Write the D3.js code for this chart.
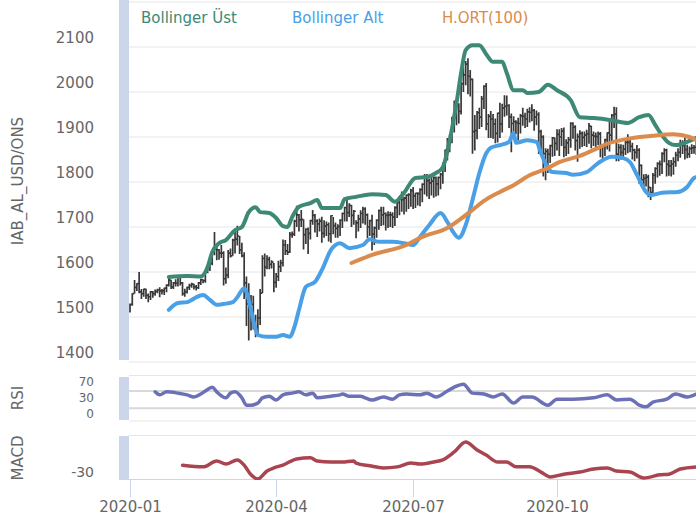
<!DOCTYPE html>
<html>
<head>
<meta charset="utf-8">
<script src="https://cdn.jsdelivr.net/npm/d3@7"></script>
<style>
  body { margin: 0; background: #fff; }
  svg { display: block; font-family: "DejaVu Sans", Verdana, sans-serif; }
</style>
</head>
<body>
<svg id="chart" width="696" height="525"></svg>
<script>
// daily bars, one row per session: [date, high, low, close]
const priceBars = [
  ["2020-01-02",1530,1510,1528],["2020-01-03",1553,1525,1552],["2020-01-06",1582,1552,1566],
  ["2020-01-07",1575,1558,1574],["2020-01-08",1600,1553,1556],["2020-01-09",1562,1540,1552],
  ["2020-01-10",1563,1545,1562],["2020-01-13",1563,1540,1548],["2020-01-14",1552,1533,1545],
  ["2020-01-15",1558,1538,1556],["2020-01-16",1558,1543,1552],["2020-01-17",1561,1547,1557],
  ["2020-01-20",1563,1553,1560],["2020-01-21",1566,1544,1558],["2020-01-22",1562,1550,1558],
  ["2020-01-23",1565,1549,1564],["2020-01-24",1573,1555,1571],["2020-01-27",1588,1568,1582],
  ["2020-01-28",1583,1562,1567],["2020-01-29",1578,1562,1576],["2020-01-30",1584,1568,1575],
  ["2020-01-31",1589,1568,1589],
  ["2020-02-03",1592,1570,1576],["2020-02-04",1578,1547,1552],["2020-02-05",1563,1545,1556],
  ["2020-02-06",1568,1552,1566],["2020-02-07",1574,1560,1570],["2020-02-10",1576,1565,1573],
  ["2020-02-11",1574,1561,1567],["2020-02-12",1571,1559,1565],["2020-02-13",1578,1562,1576],
  ["2020-02-14",1585,1571,1583],["2020-02-17",1584,1575,1581],["2020-02-18",1604,1576,1601],
  ["2020-02-19",1613,1597,1611],["2020-02-20",1624,1602,1619],["2020-02-21",1649,1615,1643],
  ["2020-02-24",1689,1637,1659],["2020-02-25",1660,1626,1649],["2020-02-26",1651,1627,1642],
  ["2020-02-27",1660,1631,1642],["2020-02-28",1646,1570,1585],
  ["2020-03-02",1610,1574,1593],["2020-03-03",1649,1586,1642],["2020-03-04",1652,1632,1636],
  ["2020-03-05",1674,1636,1671],["2020-03-06",1692,1641,1673],["2020-03-09",1703,1659,1680],
  ["2020-03-10",1680,1640,1649],["2020-03-11",1665,1633,1636],["2020-03-12",1644,1540,1576],
  ["2020-03-13",1590,1480,1529],["2020-03-16",1575,1448,1514],["2020-03-17",1549,1470,1528],
  ["2020-03-18",1547,1472,1477],["2020-03-19",1505,1455,1471],["2020-03-20",1517,1460,1498],
  ["2020-03-23",1562,1482,1553],["2020-03-24",1637,1553,1630],["2020-03-25",1641,1590,1611],
  ["2020-03-26",1637,1606,1628],["2020-03-27",1634,1606,1617],["2020-03-30",1626,1608,1622],
  ["2020-03-31",1620,1555,1577],
  ["2020-04-01",1598,1565,1590],["2020-04-02",1625,1580,1612],["2020-04-03",1627,1600,1620],
  ["2020-04-06",1672,1612,1660],["2020-04-07",1671,1638,1647],["2020-04-08",1662,1638,1644],
  ["2020-04-09",1689,1642,1683],["2020-04-10",1690,1676,1684],["2020-04-13",1716,1680,1713],
  ["2020-04-14",1747,1700,1727],["2020-04-15",1729,1690,1716],["2020-04-16",1738,1700,1717],
  ["2020-04-17",1717,1650,1683],["2020-04-20",1697,1662,1695],["2020-04-21",1699,1640,1686],
  ["2020-04-22",1716,1672,1714],["2020-04-24",1738,1705,1726],["2020-04-27",1729,1688,1713],
  ["2020-04-28",1717,1678,1707],["2020-04-29",1719,1690,1713],["2020-04-30",1723,1665,1686],
  ["2020-05-04",1715,1676,1702],["2020-05-05",1712,1680,1705],["2020-05-06",1710,1668,1685],
  ["2020-05-07",1726,1665,1725],["2020-05-08",1722,1684,1703],["2020-05-11",1710,1676,1697],
  ["2020-05-12",1706,1676,1701],["2020-05-13",1717,1680,1715],["2020-05-14",1732,1698,1730],
  ["2020-05-15",1745,1712,1743],["2020-05-18",1765,1712,1732],["2020-05-20",1753,1722,1748],
  ["2020-05-21",1749,1700,1726],["2020-05-22",1738,1705,1735],["2020-05-27",1715,1675,1709],
  ["2020-05-28",1727,1690,1718],["2020-05-29",1737,1698,1730],
  ["2020-06-01",1745,1708,1740],["2020-06-02",1744,1705,1727],["2020-06-03",1730,1675,1700],
  ["2020-06-04",1716,1680,1714],["2020-06-05",1727,1648,1684],["2020-06-08",1701,1660,1698],
  ["2020-06-09",1717,1676,1715],["2020-06-10",1739,1694,1737],["2020-06-11",1745,1702,1727],
  ["2020-06-12",1745,1704,1730],["2020-06-15",1732,1692,1726],["2020-06-16",1735,1698,1727],
  ["2020-06-17",1734,1700,1727],["2020-06-18",1733,1698,1722],["2020-06-19",1746,1702,1743],
  ["2020-06-22",1756,1720,1754],["2020-06-23",1769,1726,1768],["2020-06-24",1779,1734,1761],
  ["2020-06-25",1767,1728,1764],["2020-06-26",1772,1734,1771],["2020-06-29",1775,1740,1772],
  ["2020-06-30",1785,1745,1781],
  ["2020-07-01",1789,1740,1769],["2020-07-02",1776,1742,1775],["2020-07-03",1777,1748,1774],
  ["2020-07-06",1786,1746,1783],["2020-07-07",1797,1755,1795],["2020-07-08",1818,1772,1809],
  ["2020-07-09",1818,1768,1803],["2020-07-10",1808,1762,1798],["2020-07-13",1818,1770,1802],
  ["2020-07-14",1813,1765,1809],["2020-07-16",1812,1768,1796],["2020-07-17",1812,1770,1810],
  ["2020-07-20",1820,1784,1817],["2020-07-21",1843,1796,1842],["2020-07-22",1872,1822,1871],
  ["2020-07-23",1898,1848,1887],["2020-07-24",1905,1866,1902],["2020-07-27",1945,1886,1942],
  ["2020-07-28",1981,1910,1958],["2020-07-29",1971,1926,1970],["2020-07-30",1975,1930,1957],
  ["2020-08-04",2023,1950,2018],["2020-08-05",2055,2000,2038],["2020-08-06",2069,2015,2062],
  ["2020-08-07",2075,1995,2035],["2020-08-10",2049,1990,2028],["2020-08-11",2030,1863,1912],
  ["2020-08-12",1949,1870,1914],["2020-08-13",1958,1895,1954],["2020-08-14",1965,1918,1944],
  ["2020-08-17",1991,1922,1985],["2020-08-18",2015,1962,2013],["2020-08-19",2020,1915,1929],
  ["2020-08-20",1951,1898,1946],["2020-08-21",1958,1898,1940],["2020-08-24",1951,1896,1929],
  ["2020-08-25",1941,1886,1908],["2020-08-26",1954,1888,1953],["2020-08-27",1976,1898,1929],
  ["2020-08-28",1974,1910,1964],["2020-08-31",1993,1945,1968],
  ["2020-09-01",1992,1948,1970],["2020-09-02",1973,1920,1944],["2020-09-03",1952,1866,1930],
  ["2020-09-04",1946,1900,1934],["2020-09-07",1937,1906,1932],["2020-09-08",1943,1892,1930],
  ["2020-09-09",1951,1908,1947],["2020-09-10",1965,1925,1946],["2020-09-11",1954,1920,1940],
  ["2020-09-14",1963,1922,1956],["2020-09-15",1966,1932,1955],["2020-09-16",1973,1935,1959],
  ["2020-09-17",1962,1914,1944],["2020-09-18",1959,1926,1950],["2020-09-21",1955,1862,1912],
  ["2020-09-22",1916,1870,1900],["2020-09-23",1904,1812,1863],["2020-09-24",1875,1804,1868],
  ["2020-09-25",1874,1820,1862],["2020-09-28",1883,1842,1881],["2020-09-29",1900,1856,1898],
  ["2020-09-30",1899,1858,1886],
  ["2020-10-01",1917,1870,1906],["2020-10-02",1917,1858,1900],["2020-10-05",1920,1880,1913],
  ["2020-10-06",1921,1855,1877],["2020-10-07",1895,1858,1887],["2020-10-08",1900,1862,1894],
  ["2020-10-09",1933,1876,1930],["2020-10-12",1933,1896,1922],["2020-10-13",1926,1870,1892],
  ["2020-10-14",1908,1845,1901],["2020-10-15",1915,1874,1908],["2020-10-16",1912,1878,1899],
  ["2020-10-19",1912,1880,1904],["2020-10-20",1916,1878,1907],["2020-10-21",1931,1885,1924],
  ["2020-10-22",1925,1875,1904],["2020-10-23",1912,1880,1902],["2020-10-26",1910,1878,1901],
  ["2020-10-27",1912,1882,1907],["2020-10-28",1911,1855,1878],["2020-10-30",1882,1848,1879],
  ["2020-11-02",1896,1858,1894],["2020-11-03",1910,1872,1909],["2020-11-04",1940,1868,1904],
  ["2020-11-05",1951,1888,1948],["2020-11-06",1967,1920,1951],["2020-11-09",1966,1846,1862],
  ["2020-11-10",1885,1846,1877],["2020-11-11",1884,1850,1866],["2020-11-12",1883,1850,1873],
  ["2020-11-13",1892,1860,1888],["2020-11-16",1906,1864,1888],["2020-11-17",1896,1866,1879],
  ["2020-11-18",1887,1850,1871],["2020-11-19",1874,1846,1866],["2020-11-20",1882,1852,1871],
  ["2020-11-23",1875,1796,1837],["2020-11-24",1839,1790,1805],["2020-11-25",1817,1786,1808],
  ["2020-11-26",1818,1790,1811],["2020-11-27",1816,1766,1788],["2020-11-30",1789,1760,1777],
  ["2020-12-01",1820,1770,1815],["2020-12-02",1833,1796,1830],["2020-12-03",1844,1810,1841],
  ["2020-12-04",1848,1814,1839],["2020-12-07",1866,1818,1863],["2020-12-08",1875,1844,1871],
  ["2020-12-09",1874,1812,1839],["2020-12-10",1849,1814,1836],["2020-12-11",1849,1812,1840],
  ["2020-12-14",1855,1816,1845],["2020-12-15",1867,1834,1860],["2020-12-16",1875,1846,1866],
  ["2020-12-17",1894,1854,1883],["2020-12-18",1893,1862,1881],["2020-12-21",1898,1850,1872],
  ["2020-12-22",1883,1853,1862],["2020-12-23",1879,1854,1874],["2020-12-24",1884,1862,1876],
  ["2020-12-25",1882,1863,1877],["2020-12-28",1896,1860,1880],["2020-12-29",1886,1863,1877],
  ["2020-12-30",1896,1866,1893],["2020-12-31",1901,1877,1895]
];

// indicator lines: [session number, value]
const upperBand = [
  [17,1589],[25,1591],[31,1590],[34,1611],[36,1644],[39,1664],[42,1671],[46,1693],[49,1700],
  [52,1733],[55,1744],[57,1733],[61,1731],[64,1720],[67,1702],[69,1700],[71,1722],[74,1745],
  [79,1753],[82,1760],[84,1742],[92,1742],[94,1762],[99,1767],[106,1773],[112,1771],[116,1756],
  [120,1776],[125,1809],[130,1811],[134,1820],[137,1833],[140,1893],[143,1976],[145,2042],
  [147,2093],[150,2104],[153,2104],[156,2084],[159,2067],[163,2067],[165,2042],[168,2004],
  [172,2004],[174,1998],[179,2000],[183,2016],[187,2004],[193,1982],[197,1944],[203,1942],
  [210,1938],[218,1931],[223,1944],[227,1949],[230,1927],[232,1911],[236,1887],[239,1882],
  [244,1889],[248,1898]
];
const lowerBand = [
  [17,1516],[21,1531],[25,1533],[27,1538],[29,1544],[32,1549],[35,1538],[38,1527],[41,1529],
  [45,1533],[47,1544],[50,1564],[52,1538],[54,1493],[56,1460],[60,1456],[64,1456],[67,1460],
  [70,1456],[72,1478],[74,1516],[77,1567],[81,1578],[84,1604],[88,1649],[92,1664],[96,1653],
  [102,1660],[105,1673],[109,1667],[115,1667],[120,1664],[124,1660],[127,1678],[131,1704],
  [136,1731],[139,1711],[141,1693],[144,1676],[147,1704],[150,1760],[153,1820],[156,1864],
  [158,1876],[162,1882],[166,1889],[168,1909],[169,1887],[174,1893],[178,1889],[180,1864],
  [183,1831],[185,1822],[191,1820],[194,1816],[200,1822],[205,1842],[211,1856],[216,1853],
  [219,1844],[222,1816],[226,1778],[228,1771],[233,1776],[240,1778],[244,1789],[247,1809],
  [248,1811]
];
const sma100 = [
  [97,1620],[106,1638],[121,1660],[128,1678],[139,1698],[150,1738],[155,1758],[162,1778],
  [168,1793],[175,1815],[183,1831],[188,1844],[197,1858],[205,1876],[209,1885],[215,1893],
  [219,1897],[229,1903],[238,1906],[245,1900],[248,1893]
];
const rsi = [
  [11,68],[13,61],[16,68],[21,65],[25,61],[28,56],[31,63],[33,70],[36,79],[38,68],[42,54],
  [44,65],[46,68],[49,54],[51,37],[53,37],[56,42],[58,54],[61,58],[64,49],[67,61],[71,65],
  [74,68],[77,61],[80,65],[82,54],[88,58],[92,61],[93,63],[96,58],[101,58],[103,54],[106,49],
  [111,56],[115,51],[118,61],[121,63],[127,61],[130,65],[134,56],[139,70],[142,79],[146,86],
  [150,65],[155,63],[159,56],[163,63],[168,42],[172,56],[176,56],[183,37],[187,51],[194,51],
  [203,54],[209,61],[213,49],[219,51],[223,37],[226,33],[229,44],[235,51],[239,63],[244,56],
  [248,63]
];
const macd = [
  [23,10],[32,5],[38,22],[42,13],[47,25],[50,10],[53,-18],[56,-30],[60,-7],[63,2],[67,10],
  [73,28],[79,31],[82,22],[88,19],[93,19],[98,22],[99,16],[105,8],[111,2],[117,5],[123,16],
  [127,13],[133,19],[137,25],[142,48],[147,77],[152,54],[156,39],[161,19],[165,19],[169,5],
  [175,5],[180,-10],[184,-24],[190,-16],[197,-10],[203,-1],[209,2],[213,-7],[219,-10],
  [225,-27],[232,-18],[236,-16],[241,-1],[248,5]
];

const priceTicks = [1400, 1500, 1600, 1700, 1800, 1900, 2000, 2100];
const rsiTicks = [0, 30, 70];
const macdTicks = [-30];
const xTickDates = ["2020-01-02", "2020-04-01", "2020-07-01", "2020-10-01"];
const xTickLabels = ["2020-01", "2020-04", "2020-07", "2020-10"];
const legendNames = ["Bollinger Üst", "Bollinger Alt", "H.ORT(100)"];

const colors = {
  bars: "#383838",
  upper: "#3d8976",
  lower: "#4aa0e6",
  sma: "#db8b4c",
  rsi: "#6c70b6",
  macd: "#aa4450",
  label: "#666666",
  grid: "#e6e6e6",
  axis: "#ccd6eb"
};

const svg = d3.select("#chart");
const plotLeft = 129, plotRight = 696;

// ordinal-like x: one step per trading session
const x = d3.scaleLinear().domain([0, 187]).range([130, 557]);
const yPrice = d3.scaleLinear().domain([1400, 2200]).range([362, 2]);
const yRsi = d3.scaleLinear().domain([0, 70]).range([421, 391]);
const yMacd = d3.scaleLinear().domain([-30, 97]).range([479, 435]);

// left side bands of each pane
const panes = [[0, 360], [377, 420], [436, 479]];
svg.selectAll("rect.pane")
  .data(panes)
  .join("rect")
  .attr("class", "pane")
  .attr("x", 119).attr("y", d => d[0])
  .attr("width", 10).attr("height", d => d[1] - d[0])
  .attr("fill", colors.axis);

// grid lines
function gridLines(ticks, scale, dark) {
  svg.append("g").selectAll("line")
    .data(ticks)
    .join("line")
    .attr("x1", plotLeft).attr("x2", plotRight)
    .attr("y1", d => scale(d)).attr("y2", d => scale(d))
    .attr("stroke", d => dark.includes(d) ? "#d9d9d9" : colors.grid)
    .attr("stroke-width", d => dark.includes(d) ? 2 : 1);
}
gridLines(d3.range(1400, 2201, 100), yPrice, []);
gridLines(rsiTicks, yRsi, [30, 70]);
svg.append("line").attr("x1", plotLeft).attr("x2", plotRight)
  .attr("y1", 375.5).attr("y2", 375.5).attr("stroke", colors.grid);
svg.append("line").attr("x1", plotLeft).attr("x2", plotRight)
  .attr("y1", yMacd(97) + 0.5).attr("y2", yMacd(97) + 0.5).attr("stroke", colors.grid);

// y labels
function yLabels(ticks, scale, size, lift) {
  svg.append("g").selectAll("text")
    .data(ticks)
    .join("text")
    .attr("x", 94)
    .attr("y", d => scale(d) - lift(d))
    .attr("text-anchor", "end")
    .attr("font-size", size)
    .attr("fill", colors.label)
    .text(d => d);
}
yLabels(priceTicks, yPrice, 15, () => 4.5);
// the three RSI labels sit close together, so they are nudged apart
yLabels(rsiTicks, yRsi, 12, d => d === 0 ? 3 : d === 30 ? 6 : 5);
yLabels(macdTicks, yMacd, 14, () => 2.5);

// axis titles
const titles = [["IAB_AL_USD/ONS", 181], ["RSI", 398], ["MACD", 458]];
svg.append("g").selectAll("text")
  .data(titles)
  .join("text")
  .attr("transform", d => `translate(23,${d[1]}) rotate(-90)`)
  .attr("text-anchor", "middle")
  .attr("font-size", 15)
  .attr("fill", colors.label)
  .text(d => d[0]);

// x axis
svg.append("line").attr("x1", 119).attr("x2", plotRight)
  .attr("y1", 479.5).attr("y2", 479.5).attr("stroke", colors.axis);
const tickIdx = xTickDates.map(dt => priceBars.findIndex(b => b[0] === dt));
const xt = svg.append("g").selectAll("g")
  .data(tickIdx)
  .join("g")
  .attr("transform", d => `translate(${Math.round(x(d)) + 0.5},0)`);
xt.append("line").attr("y1", 479).attr("y2", 497).attr("stroke", colors.axis);
xt.append("text")
  .attr("y", 512)
  .attr("text-anchor", "middle")
  .attr("font-size", 15)
  .attr("fill", colors.label)
  .text((d, i) => xTickLabels[i]);

// clip for plotting
svg.append("defs").append("clipPath").attr("id", "plotClip")
  .append("rect").attr("x", plotLeft).attr("y", 0).attr("width", 600).attr("height", 480);
const plot = svg.append("g").attr("clip-path", "url(#plotClip)");

// OHLC style bars
plot.append("g").selectAll("path")
  .data(priceBars)
  .join("path")
  .attr("d", (d, i) => {
    const px = x(i);
    return `M${px},${yPrice(d[1])}V${yPrice(d[2])}M${px},${yPrice(d[3])}h2`;
  })
  .attr("fill", "none")
  .attr("stroke", colors.bars)
  .attr("stroke-width", 1.7);

function drawLine(data, yScale, color, width) {
  const line = d3.line()
    .x(d => x(d[0]))
    .y(d => yScale(d[1]))
    .curve(d3.curveMonotoneX);
  plot.append("path")
    .datum(data)
    .attr("d", line)
    .attr("fill", "none")
    .attr("stroke", color)
    .attr("stroke-width", width)
    .attr("stroke-linejoin", "round")
    .attr("stroke-linecap", "round");
}
drawLine(upperBand, yPrice, colors.upper, 4);
drawLine(lowerBand, yPrice, colors.lower, 4);
drawLine(sma100, yPrice, colors.sma, 4);
drawLine(rsi, yRsi, colors.rsi, 3.5);
drawLine(macd, yMacd, colors.macd, 3.5);

// legend
const legendX = [141, 292, 442];
const legendColors = [colors.upper, colors.lower, colors.sma];
svg.append("g").selectAll("text")
  .data(legendNames)
  .join("text")
  .attr("x", (d, i) => legendX[i])
  .attr("y", 23)
  .attr("font-size", 15)
  .attr("fill", (d, i) => legendColors[i])
  .text(d => d);
</script>
</body>
</html>
